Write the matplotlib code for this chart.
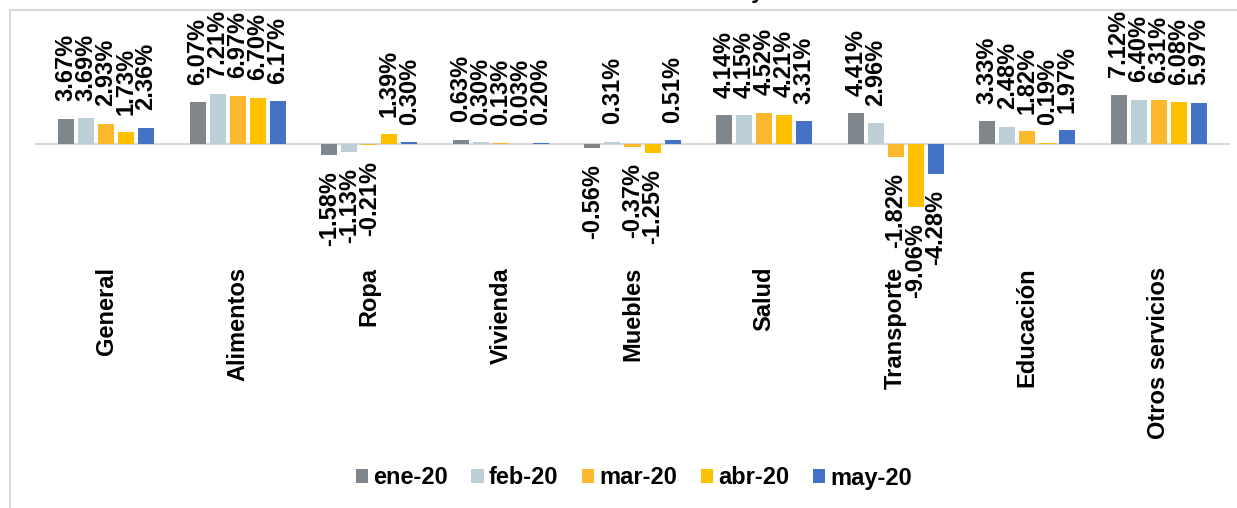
import matplotlib
matplotlib.use("Agg")
import matplotlib.pyplot as plt
from matplotlib.patches import Rectangle
import numpy as np

plt.rcParams['font.family'] = ['Liberation Sans', 'DejaVu Sans']

title = "Variación anual de enero a mayo 2020"
categories = ["General", "Alimentos", "Ropa", "Vivienda", "Muebles",
              "Salud", "Transporte", "Educación", "Otros servicios"]
series_names = ["ene-20", "feb-20", "mar-20", "abr-20", "may-20"]
ene_20 = [3.67, 6.07, -1.58, 0.63, -0.56, 4.14, 4.41, 3.33, 7.12]
feb_20 = [3.69, 7.21, -1.13, 0.30, 0.31, 4.15, 2.96, 2.48, 6.40]
mar_20 = [2.93, 6.97, -0.21, 0.13, -0.37, 4.52, -1.82, 1.82, 6.31]
abr_20 = [1.73, 6.70, 1.39, 0.03, -1.25, 4.21, -9.06, 0.19, 6.08]
may_20 = [2.36, 6.17, 0.30, 0.20, 0.51, 3.31, -4.28, 1.97, 5.97]
series = [ene_20, feb_20, mar_20, abr_20, may_20]
colors = ["#7F878C", "#BDCFD6", "#FBB82E", "#FFC000", "#4472C4"]

W, H = 1237, 508
fig = plt.figure(figsize=(W / 100, H / 100), dpi=100)

# axes placement in pixels
ax_left, ax_right = 35, 1230
ax_top, ax_bottom = 20, 260
ax = fig.add_axes([ax_left / W, 1 - ax_bottom / H,
                   (ax_right - ax_left) / W, (ax_bottom - ax_top) / H])

px_per_unit = 6.93
zero_px = 144
ax.set_ylim(-(ax_bottom - zero_px) / px_per_unit, (zero_px - ax_top) / px_per_unit)
ax.set_xlim(-0.54, len(categories) - 1 + 0.54)

x = np.arange(len(categories))
slot = 0.152
bw = 0.1216
fs = 17

for j, (name, vals, col) in enumerate(zip(series_names, series, colors)):
    xs = x + (j - 2) * slot
    ax.bar(xs, vals, width=bw, color=col, label=name, zorder=2)
    for xi, v in zip(xs, vals):
        if v >= 0:
            ax.annotate(f"{v:.2f}%", (xi, v), xytext=(0, 12.5), textcoords="offset points",
                        rotation=90, ha="center", va="bottom", fontsize=fs,
                        fontweight="bold", color="black")
        else:
            ax.annotate(f"{v:.2f}%", (xi, v), xytext=(0, -11.5), textcoords="offset points",
                        rotation=90, ha="center", va="top", fontsize=fs,
                        fontweight="bold", color="black")

ax.axhline(0, color="#D9D9D9", lw=1.6, zorder=1)
for s in ax.spines.values():
    s.set_visible(False)
ax.set_yticks([])
ax.set_xticks(x)
ax.set_xticklabels(categories, rotation=90, fontsize=fs, fontweight="bold")
ax.tick_params(axis="x", length=0, pad=5)
ax.patch.set_alpha(0)

leg = fig.legend(loc="center", bbox_to_anchor=(634 / W, 1 - 478 / H), ncol=5,
                 frameon=False, prop={"size": fs, "weight": "bold"},
                 handlelength=0.52, handleheight=0.52, handletextpad=0.22,
                 columnspacing=1.0)

fig.patches.append(Rectangle((10 / W, -0.1), 1.2, 1 - 10 / H + 0.1,
                             transform=fig.transFigure, fill=False,
                             edgecolor="#D9D9D9", lw=1.5))

fig.text(633 / W, 1 + 2.0 / H, title, ha="center", va="baseline",
         fontsize=16, fontweight="bold")

fig.savefig("out.png", dpi=100, facecolor="white")
